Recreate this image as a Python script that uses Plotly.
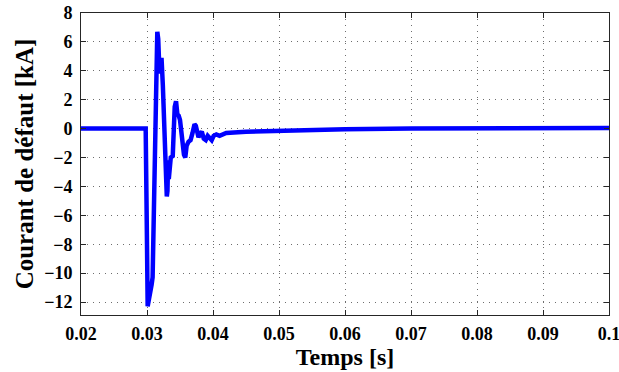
import plotly.graph_objects as go

t = [0.02, 0.0298, 0.0300, 0.0301, 0.0303, 0.0305, 0.0307, 0.03085, 0.0312, 0.03156,
     0.0317, 0.0318, 0.0319, 0.0320, 0.0321, 0.0322, 0.0324, 0.0327, 0.0330, 0.0331,
     0.0332, 0.0333, 0.0336, 0.0339, 0.0342, 0.0344, 0.0346, 0.0348, 0.0350, 0.0353,
     0.0356, 0.0358, 0.0360, 0.0363, 0.0366, 0.0369, 0.0372, 0.0374, 0.0376, 0.0378,
     0.0380, 0.0383, 0.0386, 0.0389, 0.0392, 0.0395, 0.0398, 0.0401, 0.0405, 0.041,
     0.042, 0.045, 0.05, 0.055, 0.06, 0.07, 0.08, 0.09, 0.1]
i_defaut = [0, 0, -8, -12.3, -11.8, -11.0, -10.8, -10.3, -2, 6.7,
            6.2, 5.0, 4.2, 3.8, 4.6, 4.9, 3.0, -2, -4.7, -4.3,
            -2.2, -3.5, -2.0, -1.9, 1.5, 1.9, 1.0, 0.9, 0.6, -0.8,
            -1.8, -2.0, -1.2, -0.9, -0.8, -0.3, 0.3, 0.2, -0.1, -0.6,
            -0.4, -0.2, -0.7, -0.8, -0.5, -0.7, -0.8, -0.5, -0.4, -0.5,
            -0.3, -0.22, -0.15, -0.1, -0.05, 0, 0.02, 0.03, 0.04]

x_ticks = [0.02, 0.03, 0.04, 0.05, 0.06, 0.07, 0.08, 0.09, 0.1]
x_labels = ["0.02", "0.03", "0.04", "0.05", "0.06", "0.07", "0.08", "0.09", "0.1"]
y_ticks = [-12, -10, -8, -6, -4, -2, 0, 2, 4, 6, 8]
y_labels = ["\u221212", "\u221210", "\u22128", "\u22126", "\u22124", "\u22122", "0", "2", "4", "6", "8"]

font = "Liberation Serif"

fig = go.Figure()
fig.add_trace(go.Scatter(x=t, y=i_defaut, mode="lines",
                         line=dict(color="#0000ff", width=4.5), showlegend=False))

axis_common = dict(
    showline=True, linecolor="#262626", linewidth=1, mirror="allticks",
    ticks="inside", ticklen=5, tickcolor="#262626",
    showgrid=True, gridcolor="#6e6e6e", griddash="1px,5px", gridwidth=1,
    zeroline=False, automargin=False, ticklabeloverflow="allow",
    tickfont=dict(family=font, size=18, color="black"),
)

fig.update_layout(
    width=619, height=372,
    margin=dict(l=81, r=10, t=13, b=57),
    paper_bgcolor="white", plot_bgcolor="white",
    xaxis=dict(range=[0.02, 0.1], tickvals=x_ticks,
               ticktext=["<b>%s</b>" % s for s in x_labels],
               ticklabelstandoff=2,
               title=dict(text="<b>Temps [s]</b>", font=dict(family=font, size=24, color="black"),
                          standoff=1),
               **axis_common),
    yaxis=dict(range=[-12.9, 8], tickvals=y_ticks,
               ticktext=["<b>%s</b>" % s for s in y_labels],
               ticklabelstandoff=4,
               title=dict(text="<b>Courant de défaut [kA]</b>", font=dict(family=font, size=25, color="black"),
                          standoff=3),
               **axis_common),
)

fig.write_html("out.html", config={"displayModeBar": False},
               post_script="document.body.style.margin='0';")
